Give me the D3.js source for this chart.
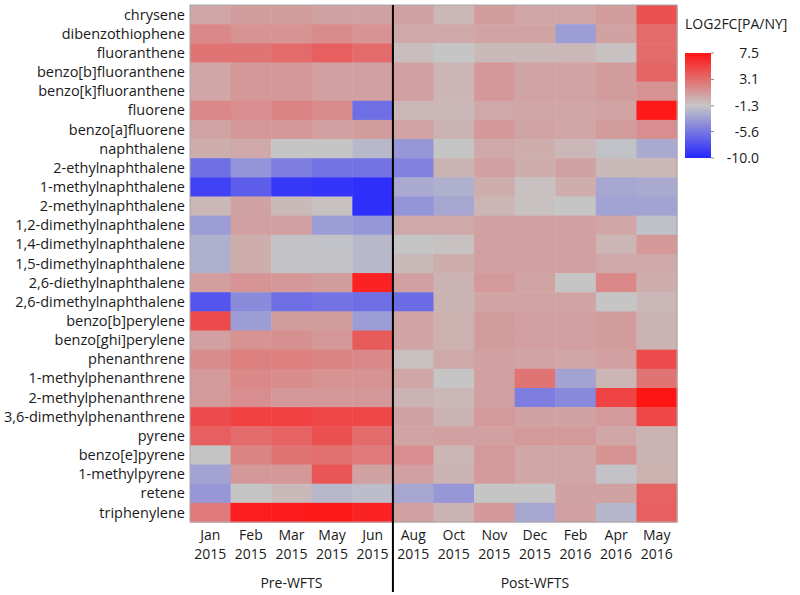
<!DOCTYPE html>
<html>
<head>
<meta charset="utf-8">
<script src="https://cdn.jsdelivr.net/npm/d3@7"></script>
<style>
  body { margin: 0; background: #fff; }
  svg { font-family: "Open Sans", "Noto Sans", sans-serif; }
</style>
</head>
<body>
<div id="chart"></div>
<script>
// compounds, top to bottom
const compounds = [
  "chrysene", "dibenzothiophene", "fluoranthene", "benzo[b]fluoranthene",
  "benzo[k]fluoranthene", "fluorene", "benzo[a]fluorene", "naphthalene",
  "2-ethylnaphthalene", "1-methylnaphthalene", "2-methylnaphthalene",
  "1,2-dimethylnaphthalene", "1,4-dimethylnaphthalene", "1,5-dimethylnaphthalene",
  "2,6-diethylnaphthalene", "2,6-dimethylnaphthalene", "benzo[b]perylene",
  "benzo[ghi]perylene", "phenanthrene", "1-methylphenanthrene",
  "2-methylphenanthrene", "3,6-dimethylphenanthrene", "pyrene",
  "benzo[e]pyrene", "1-methylpyrene", "retene", "triphenylene"
];

// sampling months
const months = ["Jan", "Feb", "Mar", "May", "Jun", "Aug", "Oct", "Nov", "Dec", "Feb", "Apr", "May"];
const years  = ["2015", "2015", "2015", "2015", "2015", "2015", "2015", "2015", "2015", "2016", "2016", "2016"];
const groups = [
  { name: "Pre-WFTS", from: 0, to: 4 },
  { name: "Post-WFTS", from: 5, to: 11 }
];

// LOG2FC[PA/NY], one row per compound, one value per month
const log2fc = [
  [ 0.3,  0.8,  0.8,  0.5,  0.5,  0.5, -0.5,  0.8,  0.3,  0.3,  0.8,  4.5],
  [ 1.8,  1.3,  1.3,  1.6,  1.3,  0.2,  0.2,  0.4,  0.4, -3.5,  0.5,  3.2],
  [ 2.8,  2.8,  3.2,  3.8,  3.2, -0.8, -1.3, -0.6, -0.6, -0.5, -1.0,  3.2],
  [ 0.3,  1.0,  1.0,  0.6,  0.6,  0.6, -0.4,  1.0,  0.4,  0.4,  0.8,  3.5],
  [ 0.3,  1.0,  1.0,  0.6,  0.6,  0.6, -0.4,  1.0,  0.4,  0.4,  0.8,  1.3],
  [ 1.8,  1.5,  2.0,  1.6, -6.0, -0.5, -0.5,  0.2,  0.3,  0.3,  0.4,  7.3],
  [ 0.4,  1.0,  1.0,  0.6,  0.8,  0.4, -0.3,  1.0,  0.4,  0.3,  0.8,  1.5],
  [ 0.0,  0.2, -1.2, -1.3, -2.0, -3.8, -1.2,  0.2,  0.0, -0.5, -1.5, -2.8],
  [-6.0, -4.0, -5.2, -5.8, -5.8, -5.0, -0.3,  0.6,  0.0,  0.5, -0.6, -0.5],
  [-8.5, -7.0, -9.0, -9.3, -9.5, -2.8, -2.5,  0.0, -1.0,  0.0, -3.0, -2.8],
  [-0.5,  0.5, -0.6, -1.0, -9.5, -4.0, -3.0, -0.4, -1.0, -1.2, -3.2, -3.2],
  [-3.5,  0.6,  0.6, -3.5, -3.8,  0.2,  0.2,  0.6,  0.6,  0.6,  0.3, -1.6],
  [-2.5,  0.0, -1.4, -1.5, -2.0, -1.2, -1.0,  0.6,  0.6,  0.6, -0.4,  1.0],
  [-2.5,  0.0, -1.4, -1.4, -2.0, -0.6,  0.0,  0.6,  0.6,  0.6,  0.2,  0.2],
  [ 0.7,  1.2,  1.0,  0.8,  6.8,  0.6, -0.3,  0.9,  0.4, -1.2,  1.8,  0.0],
  [-7.5, -4.5, -6.0, -5.8, -6.0, -6.2, -0.3,  0.4,  0.4,  0.4, -1.3, -0.5],
  [ 4.8, -3.5,  0.8,  0.8, -3.5,  0.4, -0.2,  0.8,  0.6,  0.6,  0.8, -0.3],
  [ 0.6,  1.3,  1.4,  1.0,  4.0,  0.4, -0.2,  0.8,  0.6,  0.6,  0.8, -0.3],
  [ 1.6,  2.2,  2.2,  2.0,  1.8, -0.9,  0.2,  0.6,  0.4,  0.3,  0.6,  4.8],
  [ 0.9,  1.8,  1.6,  1.3,  1.3,  0.3, -1.2,  0.6,  2.8, -3.2, -0.4,  2.8],
  [ 0.9,  1.5,  1.0,  1.0,  1.0, -0.3, -0.5,  0.6, -5.2, -4.6,  5.2,  7.5],
  [ 4.8,  5.3,  5.3,  5.0,  5.0,  0.5, -0.3,  0.9,  0.5,  0.5,  0.9,  5.0],
  [ 3.8,  3.2,  3.6,  4.5,  3.2,  0.4,  0.6,  0.6,  0.9,  0.9,  0.3, -0.3],
  [-1.3,  2.0,  2.8,  3.0,  2.5,  1.5, -0.4,  0.9,  0.3,  0.3,  1.3, -0.3],
  [-3.2,  1.0,  1.0,  4.3,  0.5,  0.6, -0.3,  0.9,  0.3,  0.3, -1.4, -0.2],
  [-3.8, -1.2, -0.6, -2.0, -1.8, -3.0, -3.8, -1.2, -1.2,  0.5,  0.5,  3.6],
  [ 2.5,  7.0,  7.2,  7.3,  6.8,  0.6, -0.3,  1.0, -3.0,  0.6, -2.2,  3.8]
];

// colour bar ticks
const legendTicks = [7.5, 3.1, -1.3, -5.6, -10.0];
const legendMin = -10, legendMax = 7.5;

const width = 800, height = 595;
const mLeft = 190, mRight = 677, mTop = 5, mBottom = 522;

const svg = d3.select("#chart").append("svg")
  .attr("width", width)
  .attr("height", height);

const x = d3.scaleBand()
  .domain(d3.range(months.length))
  .range([mLeft, mRight]);

const y = d3.scaleBand()
  .domain(compounds)
  .range([mTop, mBottom]);

const mid = (legendMin + legendMax) / 2;
const color = d3.scaleLinear()
  .domain([legendMin, mid, legendMax])
  .range(["#2626ff", "#c6c6c6", "#ff1414"])
  .clamp(true);

// cells
const cells = [];
log2fc.forEach((row, i) => row.forEach((v, j) => cells.push({ c: compounds[i], j: j, v: v })));

svg.append("g")
  .selectAll("rect")
  .data(cells)
  .join("rect")
  .attr("x", d => x(d.j))
  .attr("y", d => y(d.c))
  .attr("width", x.bandwidth() + 0.5)
  .attr("height", y.bandwidth() + 0.5)
  .attr("fill", d => color(d.v));

// frame
svg.append("rect")
  .attr("x", mLeft).attr("y", mTop)
  .attr("width", mRight - mLeft).attr("height", mBottom - mTop)
  .attr("fill", "none")
  .attr("stroke", "#a8a8a8")
  .attr("stroke-width", 1);

// compound labels
svg.append("g")
  .selectAll("text")
  .data(compounds)
  .join("text")
  .attr("x", mLeft - 5)
  .attr("y", d => y(d) + y.bandwidth() / 2)
  .attr("dy", "0.35em")
  .attr("text-anchor", "end")
  .style("font-size", "14.5px")
  .attr("fill", "#1a1a1a")
  .text(d => d);

// month / year labels
const xl = svg.append("g")
  .selectAll("g")
  .data(months)
  .join("g")
  .attr("transform", (d, i) => `translate(${x(i) + x.bandwidth() / 2},0)`);
xl.append("text")
  .attr("y", 540)
  .attr("text-anchor", "middle")
  .style("font-size", "14px")
  .attr("fill", "#1a1a1a")
  .text(d => d);
xl.append("text")
  .attr("y", 559)
  .attr("text-anchor", "middle")
  .style("font-size", "14px")
  .attr("fill", "#1a1a1a")
  .text((d, i) => years[i]);

// group labels
svg.append("g")
  .selectAll("text")
  .data(groups)
  .join("text")
  .attr("x", d => (x(d.from) + x(d.to) + x.bandwidth()) / 2)
  .attr("y", 588)
  .attr("text-anchor", "middle")
  .style("font-size", "14px")
  .attr("fill", "#1a1a1a")
  .text(d => d.name);

// divider between Pre and Post
svg.append("line")
  .attr("x1", x(5)).attr("x2", x(5))
  .attr("y1", mTop).attr("y2", 592)
  .attr("stroke", "#000")
  .attr("stroke-width", 2);

// colour legend
const lx = 685, lw = 26, ly0 = 53, ly1 = 158;
const ly = d3.scaleLinear().domain([legendMin, legendMax]).range([ly1, ly0]);

const defs = svg.append("defs");
const grad = defs.append("linearGradient")
  .attr("id", "lg").attr("x1", 0).attr("x2", 0).attr("y1", 1).attr("y2", 0);
grad.selectAll("stop")
  .data(color.domain())
  .join("stop")
  .attr("offset", d => (d - legendMin) / (legendMax - legendMin))
  .attr("stop-color", d => color(d));

svg.append("rect")
  .attr("x", lx).attr("y", ly0)
  .attr("width", lw).attr("height", ly1 - ly0)
  .attr("fill", "url(#lg)");

svg.append("g")
  .selectAll("line")
  .data(legendTicks)
  .join("line")
  .attr("x1", lx + lw).attr("x2", lx + lw + 3)
  .attr("y1", d => ly(d)).attr("y2", d => ly(d))
  .attr("stroke", "#888");

svg.append("g")
  .selectAll("text")
  .data(legendTicks)
  .join("text")
  .attr("x", 759)
  .attr("y", d => ly(d))
  .attr("dy", "0.35em")
  .attr("text-anchor", "end")
  .style("font-size", "14px")
  .attr("fill", "#1a1a1a")
  .text(d => d.toFixed(1));

svg.append("text")
  .attr("x", lx)
  .attr("y", 29)
  .style("font-size", "14px")
  .attr("fill", "#1a1a1a")
  .text("LOG2FC[PA/NY]");
</script>
</body>
</html>
